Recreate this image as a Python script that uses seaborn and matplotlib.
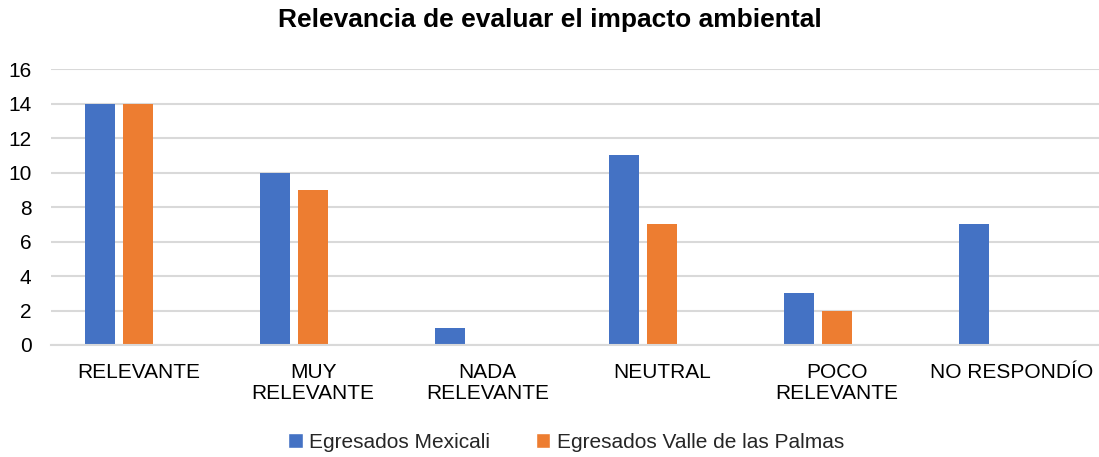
import matplotlib
matplotlib.use("Agg")
import matplotlib.pyplot as plt
import seaborn as sns
import pandas as pd
from matplotlib.patches import Patch

categories = ["RELEVANTE", "MUY\nRELEVANTE", "NADA\nRELEVANTE", "NEUTRAL", "POCO\nRELEVANTE", "NO RESPONDÍO"]
mexicali = [14, 10, 1, 11, 3, 7]
valle = [14, 9, 0, 7, 2, 0]
blank = [0, 0, 0, 0, 0, 0]
series_names = ["Egresados Mexicali", "Egresados Valle de las Palmas", "_vacío"]
colors = ["#4472C4", "#ED7D31", "#FFFFFF"]
yticks = [0, 2, 4, 6, 8, 10, 12, 14, 16]

rows = []
for name, vals in zip(series_names, [mexicali, valle, blank]):
    for c, v in zip(categories, vals):
        rows.append({"cat": c, "serie": name, "valor": v})
df = pd.DataFrame(rows)

sns.set_theme(style="white")
plt.rcParams["font.family"] = ["Liberation Sans", "DejaVu Sans"]

fig = plt.figure(figsize=(10.99, 4.57), dpi=100)
ax = fig.add_axes([51/1099, 1 - 345/457, 1 - 51/1099, (345 - 69.3)/457])

sns.barplot(data=df, x="cat", y="valor", hue="serie", order=categories,
            hue_order=series_names, palette=colors, width=0.651, gap=0.21,
            saturation=1, legend=False, ax=ax, errorbar=None, linewidth=0)

ax.set_ylim(0, 16)
ax.set_xlim(-0.5, 5.5)
ax.set_yticks(yticks)
ax.set_yticklabels([str(t) for t in yticks])
ax.yaxis.grid(True, color="#D9D9D9", linewidth=1.5)
ax.set_axisbelow(True)
for s in ["top", "right", "left"]:
    ax.spines[s].set_visible(False)
ax.spines["bottom"].set_color("#D9D9D9")
ax.spines["bottom"].set_linewidth(1.5)
ax.set_xlabel("")
ax.set_ylabel("")
ax.tick_params(axis="y", length=0, pad=14, labelsize=15, labelcolor="#000000")
ax.tick_params(axis="x", length=0, pad=13, labelsize=15, labelcolor="#000000")
for lab in ax.get_xticklabels():
    lab.set_linespacing(1.15)
    lab.set_ha("center")

fig.text(0.5, 1 - 20/457, "Relevancia de evaluar el impacto ambiental",
         ha="center", va="center", fontsize=19, fontweight="bold", color="#000000")

handles = [Patch(facecolor=colors[0]), Patch(facecolor=colors[1])]
fig.legend(handles, series_names[:2], loc="center", bbox_to_anchor=(0.515, 1 - 442/457),
           ncol=2, frameon=False, fontsize=15, handlelength=0.7, handleheight=0.7,
           handletextpad=0.3, columnspacing=2.2)

fig.savefig("out.png", dpi=100)
